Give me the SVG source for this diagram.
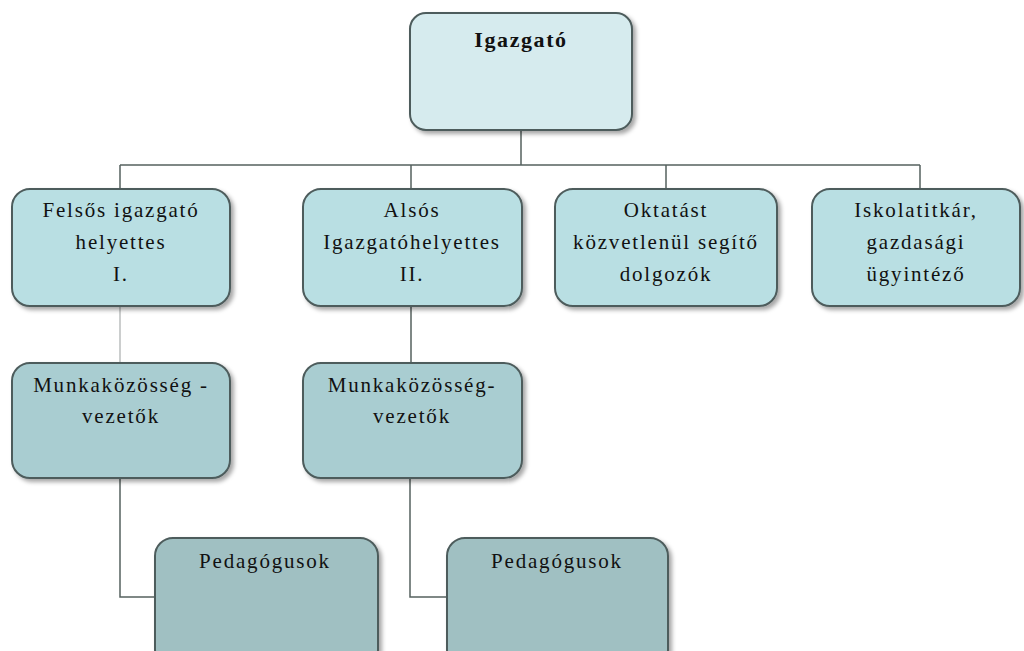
<svg xmlns="http://www.w3.org/2000/svg" width="1024" height="651" viewBox="0 0 1024 651">
<defs>
<filter id="sh" x="-10%" y="-10%" width="125%" height="125%">
<feDropShadow dx="3" dy="3" stdDeviation="2" flood-color="#000" flood-opacity="0.35"/>
</filter>
</defs>
<style>
.box{stroke:#4d5c5c;stroke-width:2;filter:url(#sh)}
.l1{fill:#d6ebee}
.l2{fill:#b9dfe3}
.l3{fill:#a9cdd1}
.l4{fill:#a0c0c2}
.t{font-family:"Liberation Serif","DejaVu Serif",serif;font-size:21px;letter-spacing:1.8px;fill:#111;text-anchor:middle}
.tb{font-weight:bold;font-size:22px;letter-spacing:1.6px}
.c{fill:none;stroke:#56615f;stroke-width:1.5}
.cl{fill:none;stroke:#a9adad;stroke-width:1.2}
</style>
<rect width="1024" height="651" fill="#fff"/>
<g id="connectors">
<path class="c" d="M521 130 V165 M120 165 H920 M120 165 V189 M411 165 V189 M666 165 V189 M920 165 V189"/>
<path class="cl" d="M120 306 V363"/>
<path class="c" d="M411 306 V363 M120 478 V597 H155 M410 478 V597 H447"/>
</g>
<g id="igazgato">
<rect class="box l1" x="410" y="13" width="222" height="117" rx="16"/>
<text class="t tb" x="521" y="47">Igazgató</text>
</g>
<g id="felsos">
<rect class="box l2" x="12" y="189" width="218" height="117" rx="18"/>
<text class="t" x="121" y="217">Felsős igazgató</text>
<text class="t" x="121" y="249">helyettes</text>
<text class="t" x="121" y="281">I.</text>
</g>
<g id="alsos">
<rect class="box l2" x="303" y="189" width="219" height="117" rx="18"/>
<text class="t" x="412" y="217">Alsós</text>
<text class="t" x="412" y="249">Igazgatóhelyettes</text>
<text class="t" x="412" y="281">II.</text>
</g>
<g id="oktatast">
<rect class="box l2" x="555" y="189" width="222" height="117" rx="18"/>
<text class="t" x="666" y="217">Oktatást</text>
<text class="t" x="666" y="249">közvetlenül segítő</text>
<text class="t" x="666" y="281">dolgozók</text>
</g>
<g id="iskolatitkar">
<rect class="box l2" x="812" y="189" width="208" height="117" rx="18"/>
<text class="t" x="916" y="217">Iskolatitkár,</text>
<text class="t" x="916" y="249">gazdasági</text>
<text class="t" x="916" y="281">ügyintéző</text>
</g>
<g id="munka1">
<rect class="box l3" x="12" y="363" width="218" height="115" rx="18"/>
<text class="t" x="121" y="392">Munkaközösség -</text>
<text class="t" x="121" y="423">vezetők</text>
</g>
<g id="munka2">
<rect class="box l3" x="303" y="363" width="219" height="115" rx="18"/>
<text class="t" x="412" y="392">Munkaközösség-</text>
<text class="t" x="412" y="423">vezetők</text>
</g>
<g id="ped1">
<rect class="box l4" x="155" y="538" width="223" height="130" rx="18"/>
<text class="t" x="265" y="568">Pedagógusok</text>
</g>
<g id="ped2">
<rect class="box l4" x="447" y="538" width="221" height="130" rx="18"/>
<text class="t" x="557" y="568">Pedagógusok</text>
</g>
</svg>
